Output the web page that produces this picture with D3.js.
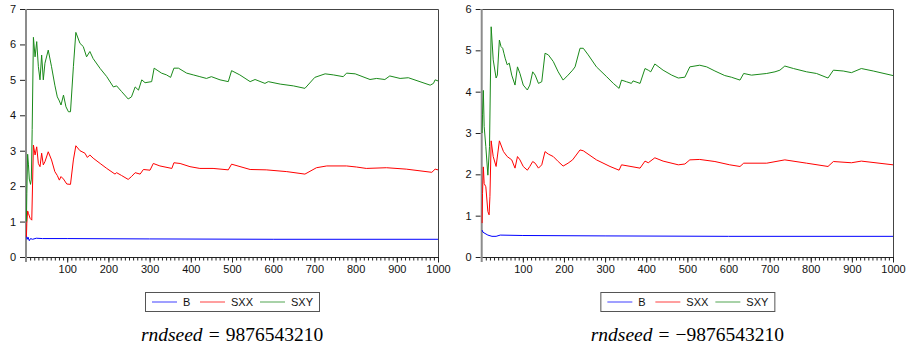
<!DOCTYPE html>
<html>
<head>
<meta charset="utf-8">
<script src="https://cdn.jsdelivr.net/npm/d3@7"></script>
<style>
  body { margin: 0; background: #fff; }
  svg { display: block; }
  .tick text { font-family: "Liberation Sans", Arial, sans-serif; font-size: 11px; fill: #111; }
</style>
</head>
<body>
<svg id="chart" width="907" height="348"></svg>
<script>
// series, [obs, value]
var seriesNames = ["B", "SXX", "SXY"];
var seriesColors = ["#0000ff", "#ff0000", "#1a8a1a"];
var xTickLabels = [100, 200, 300, 400, 500, 600, 700, 800, 900, 1000];
var leftYTicks = [0, 1, 2, 3, 4, 5, 6, 7];
var rightYTicks = [0, 1, 2, 3, 4, 5, 6];
var captions = ["9876543210", "\u22129876543210"];

var leftB = [[1,0.6],[3,0.5],[5,0.56],[8,0.46],[11,0.52],[16,0.5],[25,0.53],[40,0.52],[100,0.52],[300,0.51],[600,0.5],[1000,0.5]];
var leftSXX = [[1,0.57],[2,0.95],[4,1.3],[6,1.23],[10,1.09],[14,1.04],[18,3.16],[22,2.88],[26,3.11],[30,2.64],[34,2.55],[38,2.93],[42,2.6],[46,2.69],[54,2.97],[62,2.74],[70,2.41],[76,2.3],[81,2.17],[85,2.27],[91,2.2],[99,2.06],[108,2.05],[115,2.74],[121,3.14],[131,3.0],[143,2.93],[149,2.81],[155,2.88],[163,2.79],[180,2.64],[196,2.5],[216,2.34],[220,2.38],[232,2.3],[248,2.19],[256,2.27],[265,2.38],[277,2.34],[285,2.47],[301,2.45],[309,2.64],[325,2.57],[354,2.5],[359,2.66],[374,2.64],[398,2.55],[422,2.5],[454,2.5],[491,2.46],[499,2.62],[544,2.47],[583,2.46],[633,2.41],[677,2.34],[705,2.52],[730,2.57],[778,2.57],[802,2.54],[826,2.5],[875,2.52],[923,2.48],[985,2.39],[993,2.48],[1000,2.46]];
var leftSXY = [[1,1.0],[2,1.8],[4,2.9],[6,2.6],[8,2.2],[11,2.05],[13,2.2],[15,3.6],[18,6.2],[22,5.65],[26,6.08],[30,5.37],[34,5.0],[38,5.7],[42,5.0],[46,5.47],[54,5.84],[62,5.37],[70,4.85],[76,4.52],[80,4.43],[85,4.29],[91,4.57],[97,4.24],[103,4.1],[108,4.1],[115,5.37],[121,6.34],[131,6.03],[139,5.94],[147,5.65],[155,5.8],[163,5.6],[180,5.32],[196,5.09],[212,4.8],[220,4.83],[232,4.67],[248,4.46],[256,4.52],[265,4.8],[273,4.71],[281,5.0],[289,4.92],[305,4.95],[311,5.33],[329,5.19],[341,5.14],[351,5.07],[359,5.33],[370,5.33],[390,5.19],[406,5.14],[422,5.09],[438,5.04],[450,5.09],[471,5.0],[491,4.95],[499,5.26],[519,5.14],[544,4.95],[556,5.01],[580,4.9],[588,4.95],[617,4.88],[649,4.83],[677,4.76],[701,5.07],[726,5.17],[746,5.14],[770,5.09],[778,5.19],[799,5.17],[835,5.01],[851,5.04],[871,5.01],[883,5.11],[908,5.04],[928,5.06],[981,4.85],[989,4.9],[993,5.0],[1000,4.97]];

var rightB = [[1,0.65],[3,0.6],[8,0.57],[15,0.53],[25,0.5],[35,0.5],[45,0.53],[100,0.52],[300,0.51],[600,0.5],[1000,0.5]];
var rightSXX = [[1,0.82],[2,1.54],[4,2.18],[6,1.78],[10,1.7],[15,1.1],[18,1.02],[20,1.46],[23,2.81],[28,2.43],[35,2.19],[43,2.81],[53,2.55],[62,2.43],[73,2.35],[81,2.15],[87,2.43],[93,2.35],[101,2.19],[111,2.1],[117,2.19],[124,2.31],[130,2.27],[138,2.15],[146,2.23],[154,2.55],[162,2.49],[174,2.43],[186,2.31],[198,2.2],[210,2.27],[221,2.35],[239,2.59],[247,2.57],[279,2.35],[312,2.19],[334,2.1],[340,2.23],[385,2.15],[397,2.32],[405,2.28],[421,2.4],[441,2.32],[478,2.23],[494,2.25],[506,2.35],[530,2.36],[567,2.31],[603,2.23],[628,2.19],[637,2.27],[693,2.27],[737,2.35],[790,2.27],[842,2.19],[855,2.31],[899,2.28],[923,2.32],[1000,2.23]];
var rightSXY = [[1,3.0],[2,3.44],[4,4.03],[6,3.16],[10,2.67],[15,1.98],[19,2.67],[23,5.57],[28,4.77],[35,4.33],[38,4.4],[43,5.25],[47,5.09],[51,5.05],[54,4.93],[57,4.81],[62,4.65],[67,4.69],[73,4.4],[81,4.16],[87,4.6],[93,4.44],[101,4.16],[111,4.04],[117,4.16],[124,4.48],[130,4.4],[138,4.2],[146,4.24],[154,4.93],[162,4.89],[174,4.73],[186,4.48],[198,4.28],[210,4.4],[221,4.52],[227,4.6],[239,5.05],[247,5.05],[259,4.89],[279,4.6],[304,4.36],[320,4.2],[334,4.08],[340,4.28],[352,4.24],[364,4.2],[368,4.26],[385,4.2],[397,4.56],[405,4.52],[411,4.48],[421,4.67],[441,4.52],[462,4.4],[478,4.33],[494,4.35],[506,4.6],[530,4.64],[547,4.6],[567,4.5],[591,4.39],[607,4.35],[628,4.28],[637,4.44],[656,4.4],[693,4.44],[713,4.48],[725,4.52],[737,4.62],[758,4.56],[790,4.48],[814,4.44],[842,4.33],[855,4.52],[879,4.5],[899,4.46],[923,4.56],[952,4.5],[1000,4.39]];

var svg = d3.select("#chart");

function drawPanel(opts) {
  var x = d3.scaleLinear().domain([0, 1000]).range([opts.left, opts.right]);
  var y = d3.scaleLinear().domain([0, opts.ymax]).range([257, 9]);
  var g = svg.append("g");

  // frame top/right
  g.append("path")
    .attr("d", "M" + opts.left + ",9.5H" + (opts.right + 0.5) + "V257")
    .attr("fill", "none").attr("stroke", "#444").attr("stroke-width", 1);

  // x axis: minor ticks then labelled ticks
  g.append("g").attr("transform", "translate(0,257.5)")
    .call(d3.axisBottom(x).tickValues(d3.range(10, 1001, 10)).tickSize(3).tickFormat(""))
    .call(function(a) { a.select(".domain").remove(); a.selectAll("line").attr("stroke", "#222"); });
  g.append("g").attr("transform", "translate(0,257.5)")
    .call(d3.axisBottom(x).tickValues(xTickLabels).tickSize(5).tickPadding(3).tickFormat(d3.format("d")))
    .call(function(a) { a.select(".domain").remove(); a.selectAll("line").attr("stroke", "#222"); });
  g.append("line")
    .attr("x1", opts.left).attr("x2", opts.right + 1)
    .attr("y1", 257.5).attr("y2", 257.5)
    .attr("stroke", "#222");

  // y axis
  g.append("g").attr("transform", "translate(" + (opts.left - 1) + ",0)")
    .call(d3.axisLeft(y).tickValues(opts.yTicks).tickSize(5).tickPadding(4).tickFormat(d3.format("d")))
    .call(function(a) { a.select(".domain").remove(); a.selectAll("line").attr("stroke", "#222"); });
  g.append("line")
    .attr("x1", opts.left).attr("x2", opts.left)
    .attr("y1", 9).attr("y2", 262)
    .attr("stroke", "#8c8c8c").attr("stroke-width", 2);

  // series
  var line = d3.line().x(function(d) { return x(d[0]); }).y(function(d) { return y(d[1]); });
  opts.series.forEach(function(s, i) {
    g.append("path").datum(s)
      .attr("d", line)
      .attr("fill", "none")
      .attr("stroke", seriesColors[i])
      .attr("stroke-width", 1);
  });

  // legend
  var cx = (opts.left + opts.right) / 2;
  var lg = g.append("g").attr("transform", "translate(" + (cx - 87) + ",292)");
  lg.append("rect").attr("x", 0.5).attr("y", 0.5).attr("width", 174).attr("height", 19)
    .attr("fill", "#fff").attr("stroke", "#555");
  var itemX = [7, 55, 115];
  seriesNames.forEach(function(name, i) {
    lg.append("line")
      .attr("x1", itemX[i]).attr("x2", itemX[i] + 25)
      .attr("y1", 10).attr("y2", 10)
      .attr("stroke", seriesColors[i]).attr("stroke-opacity", 0.5).attr("stroke-width", 1.5);
    lg.append("text")
      .attr("x", itemX[i] + 31).attr("y", 14)
      .attr("font-family", "Liberation Sans, Arial, sans-serif")
      .attr("font-size", 11).attr("fill", "#111")
      .text(name);
  });

  // caption, math style
  var cap = g.append("text")
    .attr("x", cx).attr("y", 341)
    .attr("text-anchor", "middle")
    .attr("font-family", "Liberation Serif, Times New Roman, serif")
    .attr("font-size", 19.5).attr("fill", "#000");
  cap.append("tspan").attr("font-style", "italic").text("rndseed");
  cap.append("tspan").attr("dx", 6).text("=");
  cap.append("tspan").attr("dx", 6).text(opts.caption);
}

drawPanel({ left: 26, right: 438, ymax: 7, yTicks: leftYTicks, series: [leftB, leftSXX, leftSXY], caption: captions[0] });
drawPanel({ left: 481.7, right: 893, ymax: 6, yTicks: rightYTicks, series: [rightB, rightSXX, rightSXY], caption: captions[1] });
</script>
</body>
</html>
